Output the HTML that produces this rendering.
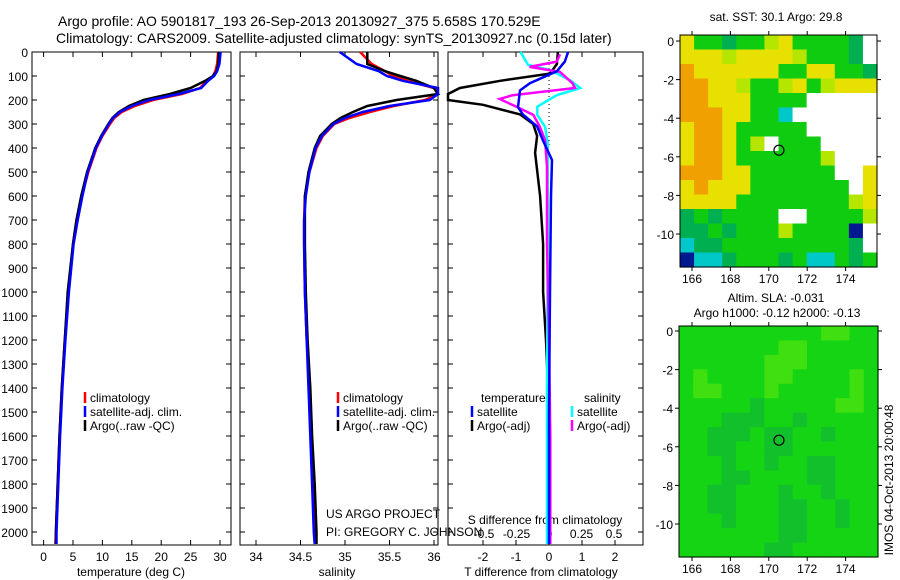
<!DOCTYPE html>
<html><head><meta charset="utf-8"><style>
body{margin:0;background:#fff;}
svg{display:block;font-family:"Liberation Sans",sans-serif;}
</style></head><body>
<svg id="c" width="900" height="580" xmlns="http://www.w3.org/2000/svg">
<rect width="900" height="580" fill="#fff"/>
<text x="58" y="26" font-size="14">Argo profile: AO 5901817_193 26-Sep-2013 20130927_375 5.658S 170.529E</text>
<text x="56" y="43" font-size="14">Climatology: CARS2009. Satellite-adjusted climatology: synTS_20130927.nc (0.15d later)</text>
<g id="g"></g>
</svg>
<script>
// ---- data ----
const depths=[0,50,80,100,120,150,175,200,225,250,275,300,350,400,500,600,700,800,1000,1200,1400,1600,1800,2000,2050];
const tempClim=[29.7,29.5,29.2,28.8,27.8,26.6,23.5,18.6,15.5,13.3,12.0,11.3,10.0,9.0,7.6,6.5,5.6,5.0,4.2,3.6,3.1,2.7,2.4,2.1,2.0];
const tempSat=[30.1,29.9,29.5,29.0,28.0,26.8,23.0,18.0,15.0,13.0,11.8,11.1,9.9,8.9,7.5,6.6,5.8,5.1,4.3,3.7,3.2,2.8,2.5,2.2,2.2];
const tempArgo=[29.8,29.7,29.4,28.8,27.5,25.0,21.5,17.0,14.5,12.8,11.7,11.0,9.8,8.8,7.4,6.4,5.6,5.0,4.1,3.6,3.1,2.7,2.4,2.1,2.1];
const salClim=[35.17,35.3,35.45,35.54,35.7,36.0,36.05,35.9,35.55,35.28,35.05,34.88,34.75,34.68,34.6,34.55,34.54,34.54,34.55,34.57,34.6,34.62,34.64,34.66,34.67];
const salSat=[34.94,35.13,35.38,35.47,35.65,36.05,36.1,35.95,35.5,35.2,35.0,34.87,34.74,34.67,34.6,34.56,34.54,34.54,34.55,34.57,34.59,34.61,34.63,34.65,34.66];
const salArgo=[35.25,35.25,35.45,35.62,35.8,36.0,36.05,35.58,35.25,35.09,34.95,34.85,34.72,34.66,34.59,34.55,34.55,34.55,34.56,34.58,34.61,34.63,34.66,34.68,34.68];
const tdArgoDepth=[0,50,90,120,150,175,200,220,260,300,350,420,600,800,1000,1200,1400,1700,2050];
const tdArgo=[0.27,0.24,0.03,-1.48,-2.7,-3.1,-3.1,-2.0,-0.88,-0.48,-0.36,-0.42,-0.27,-0.18,-0.18,-0.09,-0.03,-0.03,-0.03];
const tdSatDepth=[0,40,80,130,160,230,260,310,370,450,600,1000,1500,2050];
const tdSat=[0.58,0.48,0.24,-0.58,-0.88,-0.94,-0.79,-0.36,-0.18,0.09,0.06,0.03,0,0];
const sdArgoDepth=[10,40,62,83,130,150,180,196,228,262,312,367,480,800,1200,1600,2050];
const sdArgo=[0.085,0.06,-0.15,0.085,0.18,0.2,-0.28,-0.38,-0.25,-0.12,-0.07,-0.03,-0.015,-0.015,0,0.01,0.01];
const sdSatDepth=[0,54,75,117,150,180,228,262,312,380,800,1400,2050];
const sdSat=[-0.22,-0.16,0.01,0.16,0.24,0.06,-0.09,-0.09,-0.03,-0.01,-0.01,-0.015,-0.015];
const depthTicks=[0,100,200,300,400,500,600,700,800,900,1000,1100,1200,1300,1400,1500,1600,1700,1800,1900,2000];
const tempTicks=[0,5,10,15,20,25,30];
const salTicks=[34,34.5,35,35.5,36];
const tdTicks=[-2,-1,0,1,2];
const sdTicks=[-0.5,-0.25,0,0.25,0.5];
const sstGrid=[
"YGGTGGLYGGGGTW","YYYLYYYYLGGGTW","OYYYYYYGGYYGGT","OOYYLGGLYGLYYY",
"OOYYYGGGGWWWWW","OOOYYGGCWWWWWW","YOOYGGGGGWWWWW","YOOYGLWGGGWWWW",
"YOOYGGGGGGLWWW","OOOYYGGGGGGWWY","YOYYYGGGGGGGWY","YYYYGGGGGGGGLY",
"TGTGGGGWWGGGGL","TTGTGGGLGGGGBW","CTTGGGGGGGGGTW","BCCTGGGTGCCGTG"];
const slaGrid=[
"GGGGGGGGGGLLGG","GGGGGGGLLGGGGG","GGGGGGLLLGGGGG","GLGGGGLLGGGGLG",
"GLLGGGLGGGGGLG","GGGGGDGGGGGLLG","GGGDDDGGDGGGGG","GGDDDGDDGGDGGG",
"GGDDGGDDGGGGGG","GGGDGGDGGDDGGG","GGGDDGGGGDDGGG","GGDDGGGDGGDGGG",
"GGDDGGGDDGGDGG","GGGDGGGDDGGDGG","GGGGGGGDDGGGGG","GGGGGGDDGGGGGG"];
const lonTicks=[166,168,170,172,174];
const latTicks=[0,-2,-4,-6,-8,-10];
const argoLon=170.529, argoLat=-5.658;

// ---- helpers ----
const NS="http://www.w3.org/2000/svg";
const G=document.getElementById('g');
function mk(t,a,parent){const e=document.createElementNS(NS,t);for(const k in a)e.setAttribute(k,a[k]);(parent||G).appendChild(e);return e;}
function txt(x,y,s,anchor,size){const e=mk('text',{x:x,y:y,'font-size':size||12,'text-anchor':anchor||'start'});e.textContent=s;return e;}
const yD=d=>52+d*0.24;
const PB=545;
function frame(x0,x1,name){const r=mk('rect',{x:x0,y:52,width:x1-x0,height:PB-52,fill:'none',stroke:'#000','stroke-width':1});

}
function series(xs,ds,xf,color,w,name,x0,x1){
 const pts=xs.map((v,i)=>Math.max(x0,Math.min(x1,xf(v))).toFixed(1)+','+yD(ds[i]).toFixed(1)).join(' ');
 const p=mk('polyline',{points:pts,fill:'none',stroke:color,'stroke-width':w,'stroke-linejoin':'miter'});
 
 }
function xticks(ticks,xf,labels,ly){ticks.forEach((t,i)=>{const x=xf(t);
 mk('line',{x1:x,x2:x,y1:52,y2:57,stroke:'#000'});mk('line',{x1:x,x2:x,y1:PB,y2:PB-5,stroke:'#000'});
 const l=txt(x,ly,labels[i],'middle');
 
 });}
function yticks(x0,x1){depthTicks.forEach(d=>{const y=yD(d);mk('line',{x1:x0,x2:x0+5,y1:y,y2:y,stroke:'#000'});mk('line',{x1:x1,x2:x1-5,y1:y,y2:y,stroke:'#000'});});}
function legend(x,y,items){items.forEach((it,i)=>{mk('line',{x1:x,x2:x,y1:y+i*14-10,y2:y+i*14+1,stroke:it[0],'stroke-width':2.5});
 const t=txt(x+5,y+i*14,it[1]);
 
 });}

// ---- panel 1 temperature ----
const xT=v=>43.6+v*5.88;
frame(32,231,'temperature-panel');
yticks(32,231);
depthTicks.forEach(d=>{const l=txt(28,yD(d)+5,String(d),'end');
 
 });
xticks(tempTicks,xT,tempTicks.map(String),561);
series(tempClim,depths,xT,'#f00',2.5,'temp-climatology-line',32,231);
series(tempArgo,depths,xT,'#000',2.5,'temp-argo-line',32,231);
series(tempSat,depths,xT,'#00f',2.5,'temp-satellite-line',32,231);
legend(85,402,[['#f00','climatology'],['#00f','satellite-adj. clim.'],['#000','Argo(..raw -QC)']]);
txt(131,576,'temperature (deg C)','middle');

// ---- panel 2 salinity ----
const xS=v=>256+(v-34)*89;
frame(240,438,'salinity-panel');
yticks(240,438);
xticks(salTicks,xS,salTicks.map(String),561);
series(salClim,depths,xS,'#f00',2.5,'sal-climatology-line',240,438);
series(salArgo,depths,xS,'#000',2.5,'sal-argo-line',240,438);
series(salSat,depths,xS,'#00f',2.5,'sal-satellite-line',240,438);
legend(338,402,[['#f00','climatology'],['#00f','satellite-adj. clim.'],['#000','Argo(..raw -QC)']]);
txt(337,576,'salinity','middle');
txt(326,518,'US ARGO PROJECT');
txt(326,536,'PI: GREGORY C. JOHNSON');

// ---- panel 3 differences ----
const xTD=v=>549+v*33;
const xSD=v=>549+v*130;
frame(448,643,'difference-panel');
yticks(448,643);
xticks(tdTicks,xTD,tdTicks.map(String),561);
sdTicks.forEach(t=>{const l=txt(xSD(t),538,String(t),'middle');
 
 });
txt(545,524,'S difference from climatology','middle');
txt(541,576,'T difference from climatology','middle');
mk('line',{x1:549,x2:549,y1:yD(0),y2:yD(400),stroke:'#000','stroke-dasharray':'1,3'});
series(tdArgo,tdArgoDepth,xTD,'#000',2.5,'tdiff-argo-line',448,643);
series(sdSat,sdSatDepth,xSD,'#0ff',2.5,'sdiff-satellite-line',448,643);
series(sdArgo,sdArgoDepth,xSD,'#f0f',2.5,'sdiff-argo-line',448,643);
series(tdSat,tdSatDepth,xTD,'#00f',2.5,'tdiff-satellite-line',448,643);
txt(481,402,'temperature');txt(584,402,'salinity');
legend(472,416,[['#00f','satellite'],['#000','Argo(-adj)']]);
legend(572,416,[['#0ff','satellite'],['#f0f','Argo(-adj)']]);

// ---- maps ----
const cols={O:'#f0a000',Y:'#e8e000',L:'#b4e600',G:'#10cc10',T:'#00b050',C:'#00c8c8',B:'#001890',W:'#ffffff',D:'#10bf30'};
const cols2={G:'#14d414',L:'#40e010',D:'#12c02c'};
function map(x0,y0,w,h,lat0,grid,pal,name){
 const gm=mk('g',{});
 
 
 const rows=grid.length, nc=grid[0].length, cw=w/nc, ch=h/rows;
 grid.forEach((r,i)=>{for(let j=0;j<nc;j++){mk('rect',{x:x0+j*cw,y:y0+i*ch,width:cw+0.6,height:ch+0.6,fill:pal[r[j]]},gm);}});
 mk('rect',{x:x0,y:y0,width:w,height:h,fill:'none',stroke:'#000'},gm);
 const xL=v=>692+(v-166)*19.2, yL=v=>lat0-v*19.3;
 lonTicks.forEach(t=>{const x=xL(t);mk('line',{x1:x,x2:x,y1:y0,y2:y0-4,stroke:'#000'},gm);mk('line',{x1:x,x2:x,y1:y0+h,y2:y0+h+4,stroke:'#000'},gm);
  const l=txt(x,y0+h+16,String(t),'middle');
  
  });
 latTicks.forEach(t=>{const y=yL(t);mk('line',{x1:x0,x2:x0-4,y1:y,y2:y,stroke:'#000'},gm);mk('line',{x1:x0+w,x2:x0+w+4,y1:y,y2:y,stroke:'#000'},gm);
  const l=txt(x0-6,y+5,String(t),'end');
  
  });
 const c=mk('circle',{cx:xL(argoLon),cy:yL(argoLat),r:5,fill:'none',stroke:'#000','stroke-width':1.2},gm);
 
 
}
map(680,35,197,232,41,sstGrid,cols,'sst-map');
txt(776,21,'sat. SST: 30.1  Argo: 29.8','middle');
map(679,326,199,231,331,slaGrid,cols2,'sla-map');
txt(776,302,'Altim. SLA: -0.031','middle');
txt(777,317,'Argo h1000: -0.12 h2000: -0.13','middle');
const v=txt(0,0,'IMOS 04-Oct-2013 20:00:48','middle');
v.setAttribute('transform','translate(893,480) rotate(-90)');


</script>
</body></html>
